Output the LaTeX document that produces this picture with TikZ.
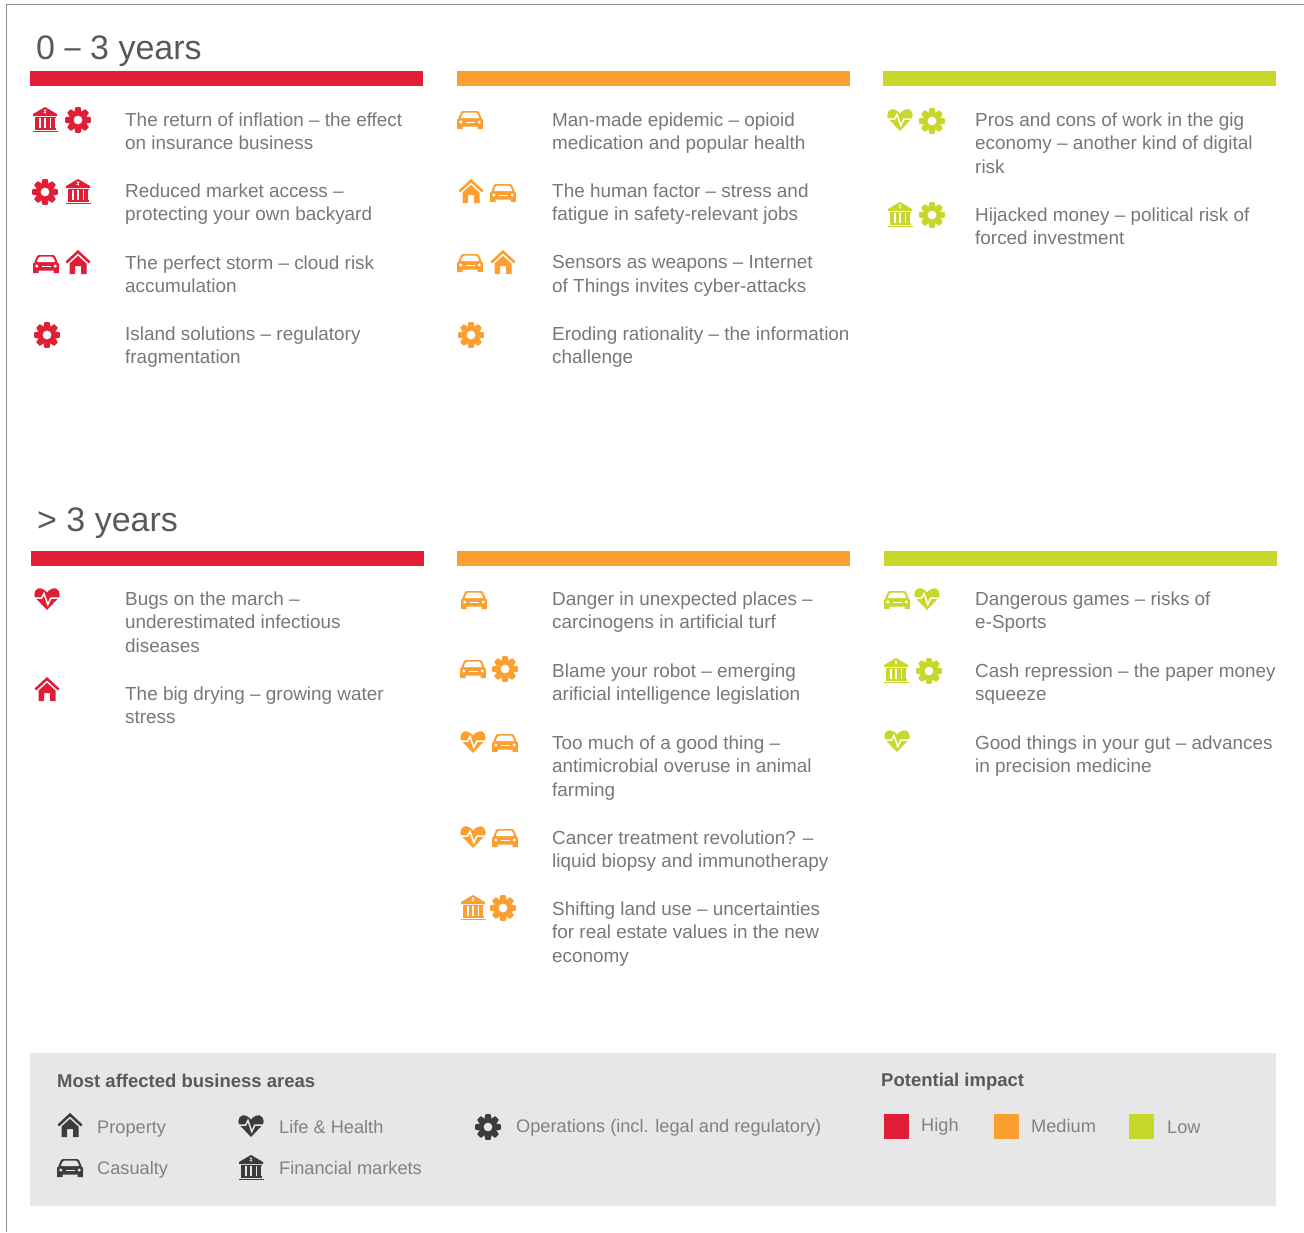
\documentclass[tikz,border=0pt]{standalone}
\usepackage{fontspec}
\setmainfont{Liberation Sans}
\definecolor{rd}{HTML}{E21E36}
\definecolor{og}{HTML}{FBA030}
\definecolor{gn}{HTML}{C8D72C}
\definecolor{dk}{HTML}{3C3C3E}
\definecolor{txt}{HTML}{808184}
\definecolor{txd}{HTML}{77787B}
\definecolor{hd}{HTML}{58595B}
\definecolor{lg}{HTML}{E6E7E8}
\tikzset{
  body/.style={inner sep=0pt,anchor=north west,align=left,text=txd,yshift=-3.2pt,font=\fontsize{18.9}{23.6}\selectfont,execute at begin node=\strut},
  lbody/.style={body,text=txt,yshift=1.2pt,font=\fontsize{18.2}{23.6}\selectfont},
  title/.style={inner sep=0pt,anchor=base west,text=hd,font=\fontsize{34}{40}\selectfont},
  lhead/.style={inner sep=0pt,anchor=base west,text=hd,font=\fontsize{18.5}{22}\selectfont\bfseries},
  swatch/.style={draw=none,minimum size=25pt,inner sep=0pt,anchor=north west},
  band/.style={draw=none,minimum width=393pt,minimum height=15pt,inner sep=0pt,anchor=north west},
}
\def\ibg{white}
\newcommand\iBank[3]{\begin{scope}[shift={(#1,#2)}]
  \fill[#3] (0,-13) -- (12,-6) -- (12,-4) -- (-12,-4) -- (-12,-6) -- cycle;
  \draw[\ibg,line width=.8pt] (1.4,-9.6) .. controls (0,-11) and (-2,-9.8) .. (0,-8.6) .. controls (2,-7.6) and (0,-6) .. (-1.4,-7.4);
  \fill[#3] (-10.5,-3.2) rectangle (10.5,-1.8);
  \foreach \cx in {-8.2,-2.75,2.75,8.2} {\fill[#3] (\cx-1.75,-1.8) rectangle (\cx+1.75,7.5);}
  \fill[#3] (-10.5,7.5) rectangle (10.5,9.5);
  \fill[#3] (-12.5,10.6) rectangle (12.5,12);
\end{scope}}
\newcommand\iGear[3]{\begin{scope}[shift={(#1,#2)}]
  \fill[#3,even odd rule] (0,0) circle[radius=8.9pt] (0,0) circle[radius=4.5pt];
  \foreach \ca in {0,45,...,315} {\fill[#3,rotate=\ca,rounded corners=.5pt] (-2.6,-12.8) -- (2.6,-12.8) -- (3.6,-7.8) -- (-3.6,-7.8) -- cycle;}
\end{scope}}
\newcommand\iCar[3]{\begin{scope}[shift={(#1,#2)}]
  \fill[#3,even odd rule,rounded corners=1.2pt] (-8.5,-9) -- (8.5,-9) -- (12,-1) -- (-12,-1) -- cycle (-7.2,-7.3) -- (7.2,-7.3) -- (9.6,-1.6) -- (-9.6,-1.6) -- cycle;
  \fill[#3,rounded corners=2pt] (-13,-1.6) rectangle (13,6.5);
  \fill[#3] (-12.8,5) rectangle (-7.5,9) (7.5,5) rectangle (12.8,9);
  \fill[\ibg] (-9.2,2) circle[radius=1.7pt] (9.2,2) circle[radius=1.7pt];
  \fill[\ibg] (-4.5,2.2) rectangle (4.5,3);
\end{scope}}
\newcommand\iHouse[3]{\begin{scope}[shift={(#1,#2)}]
  \fill[#3] (0,-13) -- (12.5,-1.5) -- (10.7,.3) -- (0,-9.6) -- (-10.7,.3) -- (-12.5,-1.5) -- cycle;
  \fill[#3] (0,-7.2) -- (8.5,.6) -- (8.5,11) -- (3,11) -- (3,3) -- (-3,3) -- (-3,11) -- (-8.5,11) -- (-8.5,.6) -- cycle;
\end{scope}}
\newcommand\iHeart[3]{\begin{scope}[shift={(#1,#2)}]
  \fill[#3] (0,11) -- (-11,-.5) .. controls (-15.5,-6) and (-10,-12.5) .. (-5.5,-10.5) .. controls (-3,-9.6) and (-1,-8) .. (0,-6.5) .. controls (1,-8) and (3,-9.6) .. (5.5,-10.5) .. controls (10,-12.5) and (15.5,-6) .. (11,-.5) -- cycle;
  \draw[\ibg,line width=1.5pt,line join=miter] (-13,-.8) -- (-5.5,-.8) -- (-3,-5.5) -- (.8,5.5) -- (3.8,-.8) -- (13,-.8);
\end{scope}}
\begin{document}
\begin{tikzpicture}[x=1pt,y=-1pt]
\useasboundingbox (0,0) rectangle (1304,1232);
\fill[white] (0,0) rectangle (1304,1232);
\draw[gray!85,line width=1pt] (6,1232) -- (6,4.5) -- (1304,4.5);
% headings
\node[title] (t1) at (36,59) {0\hspace{9.5pt}\raisebox{1pt}{\scalebox{.85}[1]{–}}\hspace{9.5pt}3 years};
\node[title] (t2) at (37,531) {> 3 years};
% bands
\node[band,fill=rd] (b1) at (30,71) {};
\node[band,fill=og] (b2) at (457,71) {};
\node[band,fill=gn] (b3) at (883,71) {};
\node[band,fill=rd] (b4) at (31,551) {};
\node[band,fill=og] (b5) at (457,551) {};
\node[band,fill=gn] (b6) at (884,551) {};
% column 1
\iBank{45}{120}{rd}\iGear{78}{120}{rd}
\node[body] (a1) at (125,109) {The return of inflation – the effect\\on insurance business};
\iGear{45}{192}{rd}\iBank{78}{192}{rd}
\node[body] (a2) at (125,180) {Reduced market access –\\protecting your own backyard};
\iCar{46}{264}{rd}\iHouse{78}{263}{rd}
\node[body] (a3) at (125,252) {The perfect storm – cloud risk\\accumulation};
\iGear{47}{335}{rd}
\node[body] (a4) at (125,323) {Island solutions – regulatory\\fragmentation};
% column 2
\iCar{470}{120}{og}
\node[body] (c1) at (552,109) {Man-made epidemic – opioid\\medication and popular health};
\iHouse{471}{192}{og}\iCar{503}{193}{og}
\node[body] (c2) at (552,180) {The human factor – stress and\\fatigue in safety-relevant jobs};
\iCar{470}{263}{og}\iHouse{503}{263}{og}
\node[body] (c3) at (552,252) {Sensors as weapons – Internet\\of Things invites cyber-attacks};
\iGear{471}{335}{og}
\node[body] (c4) at (552,323) {Eroding rationality – the information\\challenge};
% column 3
\iHeart{900}{120}{gn}\iGear{932}{121}{gn}
\node[body] (e1) at (975,109) {Pros and cons of work in the gig\\economy – another kind of digital\\risk};
\iBank{900}{215}{gn}\iGear{932}{215}{gn}
\node[body] (e2) at (975,204) {Hijacked money – political risk of\\forced investment};
% lower column 1
\iHeart{47}{599}{rd}
\node[body] (f1) at (125,588) {Bugs on the march –\\underestimated infectious\\diseases};
\iHouse{47}{690}{rd}
\node[body] (f2) at (125,683) {The big drying – growing water\\stress};
% lower column 2
\iCar{474}{600}{og}
\node[body] (g1) at (552,588) {Danger in unexpected places –\\carcinogens in artificial turf};
\iCar{473}{669}{og}\iGear{505}{669}{og}
\node[body] (g2) at (552,660) {Blame your robot – emerging\\arificial intelligence legislation};
\iHeart{473}{742}{og}\iCar{505}{743}{og}
\node[body] (g3) at (552,732) {Too much of a good thing –\\antimicrobial overuse in animal\\farming};
\iHeart{473}{837}{og}\iCar{505}{838}{og}
\node[body] (g4) at (552,827) {Cancer treatment revolution? –\\liquid biopsy and immunotherapy};
\iBank{473}{908}{og}\iGear{503}{908}{og}
\node[body] (g5) at (552,898) {Shifting land use – uncertainties\\for real estate values in the new\\economy};
% lower column 3
\iCar{897}{600}{gn}\iHeart{927}{599}{gn}
\node[body] (h1) at (975,588) {Dangerous games – risks of\\e-Sports};
\iBank{896}{671}{gn}\iGear{929}{671}{gn}
\node[body] (h2) at (975,660) {Cash repression – the paper money\\squeeze};
\iHeart{897}{741}{gn}
\node[body] (h3) at (975,732) {Good things in your gut – advances\\in precision medicine};
% legend
\fill[lg] (30,1053) rectangle (1276,1206);
\def\ibg{lg}
\node[lhead] (l1) at (57,1087) {Most affected business areas};
\node[lhead] (l2) at (881,1086) {Potential impact};
\iHouse{70}{1126}{dk}
\node[lbody] (p1) at (97,1115) {Property};
\iHeart{251}{1126}{dk}
\node[lbody] (p2) at (279,1115) {Life \& Health};
\iGear{488}{1127}{dk}
\node[lbody] (p3) at (516,1114) {Operations (incl. legal and regulatory)};
\iCar{70}{1168}{dk}
\node[lbody] (p4) at (97,1156) {Casualty};
\iBank{251}{1168}{dk}
\node[lbody] (p5) at (279,1156) {Financial markets};
\node[swatch,fill=rd] (s1) at (884,1114) {};
\node[lbody] (q1) at (921,1113) {High};
\node[swatch,fill=og] (s2) at (994,1114) {};
\node[lbody] (q2) at (1031,1114) {Medium};
\node[swatch,fill=gn] (s3) at (1129,1114) {};
\node[lbody] (q3) at (1167,1115) {Low};
\end{tikzpicture}
\end{document}
